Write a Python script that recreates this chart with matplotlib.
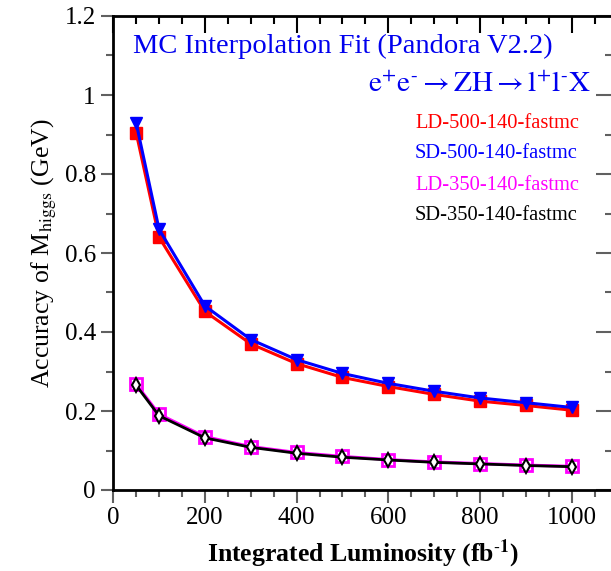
import matplotlib
matplotlib.use("Agg")
import matplotlib.pyplot as plt
from matplotlib.ticker import MultipleLocator

plt.rcParams['font.family'] = ['Liberation Serif', 'DejaVu Serif']
plt.rcParams['mathtext.fontset'] = 'stix'

lumi = [50, 100, 200, 300, 400, 500, 600, 700, 800, 900, 1000]
ld500 = [0.905, 0.640, 0.452, 0.370, 0.320, 0.285, 0.262, 0.242, 0.225, 0.214, 0.202]
sd500 = [0.930, 0.660, 0.466, 0.381, 0.330, 0.295, 0.270, 0.250, 0.233, 0.221, 0.209]
ld350 = [0.268, 0.192, 0.135, 0.110, 0.095, 0.085, 0.077, 0.071, 0.067, 0.063, 0.060]
sd350 = [0.265, 0.188, 0.132, 0.108, 0.093, 0.083, 0.076, 0.070, 0.066, 0.062, 0.059]
labels = ["LD-500-140-fastmc", "SD-500-140-fastmc", "LD-350-140-fastmc", "SD-350-140-fastmc"]

fig = plt.figure(figsize=(6.11, 5.71), dpi=100)
ax = fig.add_axes([113.2/611, 81/571, (613-113.2)/611, (490-16)/571])

ax.plot(lumi, ld500, color='#ff0000', lw=2.2, marker='s', ms=8.5, mfc='#ff0000', mec='#ff0000', zorder=3)
ax.plot(lumi, sd500, color='#0000ff', lw=2.2, marker='v', ms=9, mfc='#0000ff', mec='#0000ff', zorder=4)
ax.plot(lumi, ld350, color='#ff00ff', lw=2.2, marker='s', ms=8.5, mfc='none', mec='#ff00ff', mew=2, zorder=5)
ax.plot(lumi, sd350, color='black', lw=2.0, marker='d', ms=7.5, mfc='white', mec='black', mew=1.5, zorder=6)

ax.set_xlim(0, 1090)
ax.set_ylim(0, 1.2)
ax.xaxis.set_major_locator(MultipleLocator(200))
ax.xaxis.set_minor_locator(MultipleLocator(50))
ax.yaxis.set_major_locator(MultipleLocator(0.2))
ax.yaxis.set_minor_locator(MultipleLocator(0.1))
ax.set_yticks([0, 0.2, 0.4, 0.6, 0.8, 1.0, 1.2])
ax.set_yticklabels(['0', '0.2', '0.4', '0.6', '0.8', '1', '1.2'])
ax.set_xticks([0, 200, 400, 600, 800, 1000])

for s in ax.spines.values():
    s.set_linewidth(2)
ax.tick_params(which='both', direction='out', colors='#606060', labelcolor='black', labelsize=18, width=1.5)
ax.tick_params(which='major', length=9)
ax.tick_params(which='minor', length=5)
# mirrored inward ticks on top and right
axt = ax.secondary_xaxis('top')
axt.xaxis.set_major_locator(MultipleLocator(200))
axt.xaxis.set_minor_locator(MultipleLocator(50))
axt.tick_params(which='both', direction='in', colors='black', width=1.5, labeltop=False)
axt.tick_params(which='major', length=12)
axt.tick_params(which='minor', length=6)
axt.set_xticklabels([])
axr = ax.secondary_yaxis('right')
axr.yaxis.set_major_locator(MultipleLocator(0.2))
axr.yaxis.set_minor_locator(MultipleLocator(0.1))
axr.tick_params(which='both', direction='in', colors='#606060', width=1.5, labelright=False)
axr.tick_params(which='major', length=12)
axr.tick_params(which='minor', length=6)
axr.set_yticklabels([])

ax.set_xlabel(r'Integrated Luminosity (fb$^{\mathbf{\text{-}1}}$)', fontsize=18.5, fontweight='bold', labelpad=6)
ax.set_ylabel(r'Accuracy of M$_{\mathrm{higgs}}$ (GeV)', fontsize=18.5, labelpad=4)

ax.text(0.04, 0.935, 'MC Interpolation Fit (Pandora V2.2)', transform=ax.transAxes,
        color='#0000ee', fontsize=20.5, va='center', ha='left')
ax.text(0.955, 0.855, r'$\mathrm{e^{+}e^{\text{-}}\rightarrow ZH\rightarrow l^{+}l^{\text{-}}X}$', transform=ax.transAxes,
        color='#0000ee', fontsize=21, va='center', ha='right')

colors = ['#ff0000', '#0000ff', '#ff00ff', 'black']
ys = [123, 154, 185, 215]
for lab, c, y in zip(labels, colors, ys):
    ax.text((415 - 113.2) / (613 - 113.2), (490 - y) / 474, lab, transform=ax.transAxes,
            color=c, fontsize=14.8, va='center', ha='left')

fig.savefig('out.png', dpi=100)
